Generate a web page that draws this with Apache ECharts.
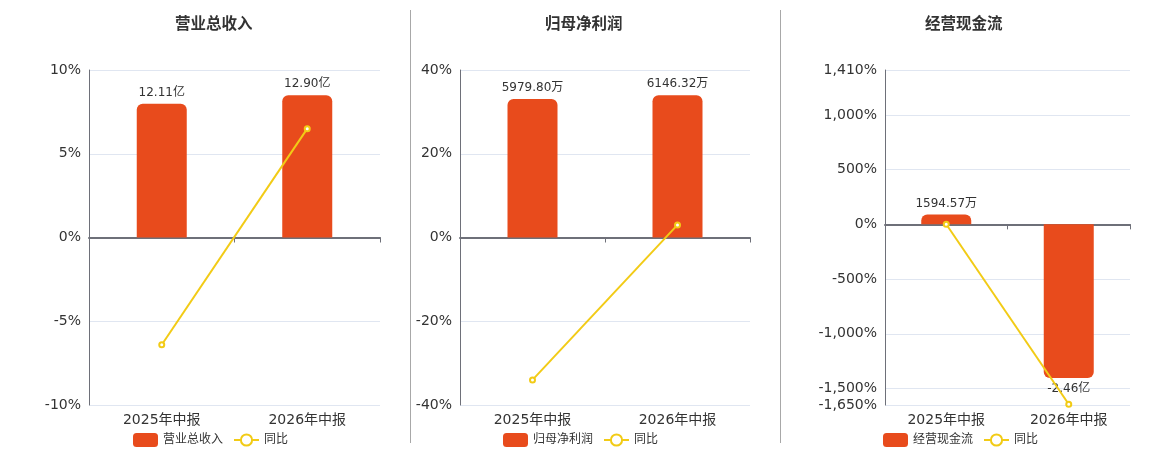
<!DOCTYPE html>
<html>
<head>
<meta charset="utf-8">
<script src="https://cdn.jsdelivr.net/npm/echarts@6/dist/echarts.min.js"></script>
<style>
  html, body { margin: 0; padding: 0; background: #fff; }
  #charts { width: 1160px; height: 450px; }
</style>
</head>
<body>
<div id="charts"></div>
<script>
// 数据
var categories = ['2025年中报', '2026年中报'];
var titles = ['营业总收入', '归母净利润', '经营现金流'];
// 柱子（元）
var revenue = [12.11e8, 12.90e8];
var netProfit = [5979.80e4, 6146.32e4];
var cashFlow = [1594.57e4, -2.46e8];
// 同比（%）
var revenueYoy = [-6.4, 6.5];
var netProfitYoy = [-34, 3.0];
var cashFlowYoy = [1.0, -1643];
// 左轴范围
var axisMin = [-10, -40, -1650];
var axisMax = [10, 40, 1410];
var axisInterval = [5, 20, null];

var barData = [revenue, netProfit, cashFlow];
var yoyData = [revenueYoy, netProfitYoy, cashFlowYoy];

// 每块图的位置
var grids = [
    { left: 89, width: 291, top: 70, bottom: 45 },
    { left: 460, width: 290, top: 70, bottom: 45 },
    { left: 885, width: 245, top: 70, bottom: 45 }
];
var titleLeft = [170, 540, 920];
var legendLeft = [128, 498, 878];

var barColor = '#e84b1c';
var lineColor = '#f2cb16';
var font = '"DejaVu Sans", Verdana, "Noto Sans CJK SC", sans-serif';

function fmtMoney(v) {
    if (Math.abs(v) >= 1e8) return (v / 1e8).toFixed(2) + '亿';
    return (v / 1e4).toFixed(2) + '万';
}

// 隐藏轴与左轴零点对齐
function hiddenExtent(i) {
    var k = 0;
    barData[i].forEach(function (v) {
        var lim = v >= 0 ? axisMax[i] : axisMin[i];
        k = Math.max(k, Math.abs(v / lim));
    });
    k = k / 0.85;
    return [axisMin[i] * k, axisMax[i] * k];
}

var option = {
    textStyle: { fontFamily: font },
    animation: false,
    title: [],
    legend: [],
    grid: [],
    xAxis: [],
    yAxis: [],
    series: [],
    graphic: [
        { type: 'line', shape: { x1: 410.5, y1: 10, x2: 410.5, y2: 443 }, style: { stroke: '#a8a8a8', lineWidth: 1 } },
        { type: 'line', shape: { x1: 780.5, y1: 10, x2: 780.5, y2: 443 }, style: { stroke: '#a8a8a8', lineWidth: 1 } }
    ]
};

for (var i = 0; i < 3; i++) {
    option.title.push({
        text: titles[i],
        left: titleLeft[i],
        top: 12,
        textStyle: { fontSize: 15.5, fontWeight: 'bold', color: '#333', fontFamily: font }
    });
    option.legend.push({
        data: [titles[i], '同比'],
        left: legendLeft[i],
        top: 428,
        itemWidth: 25,
        itemHeight: 14,
        itemGap: 10,
        textStyle: { fontSize: 12, color: '#333', fontFamily: font }
    });
    option.grid.push(grids[i]);

    // 刻度轴（零线）
    option.xAxis.push({
        type: 'category',
        gridIndex: i,
        data: categories,
        axisLine: { onZero: true, lineStyle: { color: '#6e7079', width: 2 } },
        axisTick: { show: true, lineStyle: { color: '#6e7079' } },
        axisLabel: { show: false }
    });
    // 底部标签轴
    option.xAxis.push({
        type: 'category',
        gridIndex: i,
        position: 'bottom',
        data: categories,
        axisLine: { show: false, onZero: false },
        axisTick: { show: false },
        axisLabel: { fontSize: 14, color: '#333', margin: 8, fontFamily: font }
    });

    var ext = hiddenExtent(i);
    var yAx = {
        type: 'value',
        gridIndex: i,
        min: axisMin[i],
        max: axisMax[i],
        axisLine: { show: true, lineStyle: { color: '#6e7079' } },
        axisTick: { show: false },
        splitLine: { lineStyle: { color: '#e0e6f1' } },
        axisLabel: {
            fontSize: 14,
            color: '#333',
            fontFamily: font,
            showMinLabel: true,
            showMaxLabel: true,
            formatter: function (v) { return Math.round(v).toLocaleString('en-US') + '%'; }
        }
    };
    if (axisInterval[i]) yAx.interval = axisInterval[i];
    option.yAxis.push(yAx);
    option.yAxis.push({
        type: 'value',
        gridIndex: i,
        min: ext[0],
        max: ext[1],
        show: false,
        splitLine: { show: false }
    });

    option.series.push({
        name: titles[i],
        type: 'bar',
        xAxisIndex: i * 2,
        yAxisIndex: i * 2 + 1,
        barWidth: 50,
        data: barData[i].map(function (v) {
            return {
                value: v,
                itemStyle: { borderRadius: v >= 0 ? [6, 6, 0, 0] : [0, 0, 6, 6] },
                label: { position: v >= 0 ? 'top' : 'bottom' }
            };
        }),
        itemStyle: { color: barColor },
        label: {
            show: true,
            distance: 5,
            fontSize: 12,
            color: '#333',
            fontFamily: font,
            formatter: function (p) { return fmtMoney(p.value); }
        }
    });
    option.series.push({
        name: '同比',
        type: 'line',
        xAxisIndex: i * 2,
        yAxisIndex: i * 2,
        data: yoyData[i],
        symbol: 'emptyCircle',
        symbolSize: 5,
        z: 5,
        lineStyle: { color: lineColor, width: 2 },
        itemStyle: { color: lineColor, borderWidth: 1.5 }
    });
}

var myChart = echarts.init(document.getElementById('charts'));
myChart.setOption(option);
</script>
</body>
</html>
